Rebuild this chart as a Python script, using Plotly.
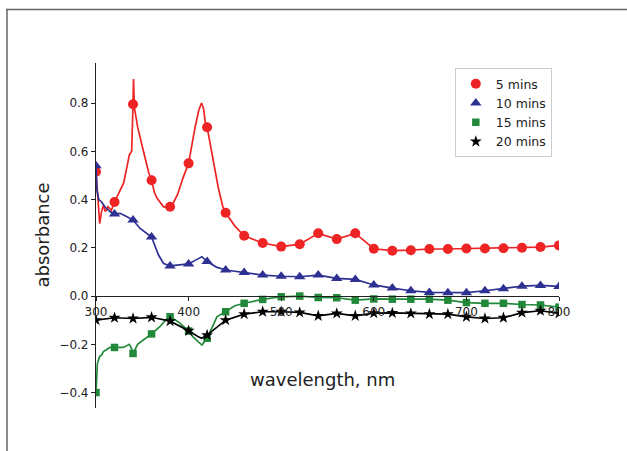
import plotly.graph_objects as go

# marker wavelengths (every 20 nm)
wl = [300 + 20 * i for i in range(26)]

red_m = [0.515, 0.39, 0.795, 0.48, 0.37, 0.55, 0.70, 0.345, 0.25, 0.22, 0.205, 0.215, 0.26,
         0.236, 0.26, 0.196, 0.188, 0.19, 0.195, 0.195, 0.197, 0.197, 0.198, 0.20, 0.203, 0.21]
blue_m = [0.54, 0.34, 0.315, 0.245, 0.125, 0.133, 0.143, 0.108, 0.098, 0.087, 0.082, 0.08, 0.087,
          0.073, 0.069, 0.046, 0.033, 0.022, 0.015, 0.014, 0.014, 0.022, 0.03, 0.041, 0.044, 0.04]
green_m = [-0.40, -0.213, -0.238, -0.157, -0.086, -0.145, -0.175, -0.065, -0.03, -0.014, -0.003, 0.0,
           -0.006, -0.007, -0.017, -0.012, -0.013, -0.013, -0.013, -0.017, -0.027, -0.03, -0.03,
           -0.035, -0.037, -0.046]
black_m = [-0.10, -0.09, -0.093, -0.088, -0.104, -0.144, -0.162, -0.10, -0.075, -0.065, -0.065, -0.068,
           -0.082, -0.072, -0.082, -0.071, -0.07, -0.072, -0.075, -0.075, -0.086, -0.093, -0.09,
           -0.069, -0.061, -0.072]

# extra spectral detail points for the continuous lines
red_dx = [302.5, 304, 306, 308, 310, 313, 316.6, 325, 330, 336, 338.5, 340.5, 341.5, 343, 345, 350,
          353, 357, 363, 366, 373, 384, 388, 394, 404, 407, 411, 414, 416, 418, 424, 427, 432, 437, 450]
red_dy = [0.356, 0.30, 0.35, 0.375, 0.35, 0.37, 0.355, 0.43, 0.47, 0.585, 0.60, 0.90, 0.78, 0.75, 0.70,
          0.62, 0.577, 0.51, 0.43, 0.405, 0.37, 0.39, 0.42, 0.49, 0.64, 0.70, 0.77, 0.80, 0.78, 0.72,
          0.62, 0.56, 0.45, 0.37, 0.29]
blue_dx = [301, 303, 306, 309.6, 315, 326, 333, 347.6, 353, 367.5, 373, 390, 408, 414.4, 430]
blue_dy = [0.44, 0.40, 0.39, 0.37, 0.35, 0.343, 0.33, 0.28, 0.265, 0.17, 0.135, 0.128, 0.15, 0.163, 0.12]
green_dx = [301.5, 304, 306, 308, 315, 329.6, 336, 338, 345, 350, 369, 375, 390, 405, 414.4, 430.6, 450]
green_dy = [-0.28, -0.25, -0.245, -0.23, -0.213, -0.213, -0.20, -0.215, -0.20, -0.185, -0.127, -0.10,
            -0.11, -0.17, -0.203, -0.086, -0.04]
black_dx = [410, 414]
black_dy = [-0.168, -0.175]

labels = ["5 mins", "10 mins", "15 mins", "20 mins"]
colors = ["#EE2424", "#2E3192", "#23893A", "#000000"]
symbols = ["circle", "triangle-up", "square", "star"]
sizes = [10, 10, 7.5, 9]

fig = go.Figure()
series = [(red_m, red_dx, red_dy), (blue_m, blue_dx, blue_dy),
          (green_m, green_dx, green_dy), (black_m, black_dx, black_dy)]
for (m, dx, dy), lab, c, s, sz in zip(series, labels, colors, symbols, sizes):
    pts = sorted(list(zip(wl, m)) + list(zip(dx, dy)))
    fig.add_trace(go.Scatter(x=[p[0] for p in pts], y=[p[1] for p in pts], mode="lines",
                             line=dict(color=c, width=1.7), showlegend=False, hoverinfo="skip"))
    fig.add_trace(go.Scatter(x=wl, y=m, mode="markers", name=lab,
                             marker=dict(symbol=s, size=sz, color=c, line=dict(width=0))))

ymin, ymax = -0.464, 0.966
xpos = (0 - ymin) / (ymax - ymin)
font = "DejaVu Sans"

fig.update_layout(
    width=627, height=451,
    margin=dict(l=96, r=68, t=63, b=43),
    paper_bgcolor="white", plot_bgcolor="white",
    font=dict(family=font, size=12, color="#222"),
    showlegend=True,
    legend=dict(x=0.775, y=0.985, xanchor="left", yanchor="top",
                bordercolor="#cccccc", borderwidth=1, bgcolor="white",
                font=dict(family=font, size=12.5, color="#222"),
                itemsizing="trace", tracegroupgap=0),
    xaxis=dict(range=[300, 800], anchor="free", position=xpos,
               showline=True, linecolor="#222", linewidth=1.2,
               ticks="outside", ticklen=4, tickcolor="#222",
               tickvals=[300, 400, 500, 600, 700, 800], showgrid=False, zeroline=False,
               tickfont=dict(family=font, size=12, color="#222")),
    yaxis=dict(range=[ymin, ymax], showline=True, linecolor="#222", linewidth=1.2,
               ticks="outside", ticklen=4, tickcolor="#222",
               tickvals=[-0.4, -0.2, 0.0, 0.2, 0.4, 0.6, 0.8],
               ticktext=["\u22120.4", "\u22120.2", "0.0", "0.2", "0.4", "0.6", "0.8"],
               showgrid=False, zeroline=False,
               tickfont=dict(family=font, size=12, color="#222")),
    annotations=[
        dict(text="absorbance", xref="paper", yref="paper", x=(42 - 96) / 463, y=0.5,
             textangle=-90, showarrow=False, xanchor="center", yanchor="middle",
             font=dict(family=font, size=18, color="#222")),
        dict(text="wavelength, nm", xref="paper", yref="paper", x=0.49, y=(408 - 379) / 345,
             showarrow=False, xanchor="center", yanchor="middle",
             font=dict(family=font, size=18, color="#222")),
    ],
    shapes=[
        dict(type="line", xref="paper", yref="paper", x0=(6 - 96) / 463, x1=(627 - 96) / 463,
             y0=(408 - 9.5) / 345, y1=(408 - 9.5) / 345, line=dict(color="#666", width=1.5)),
        dict(type="line", xref="paper", yref="paper", x0=(7 - 96) / 463, x1=(7 - 96) / 463,
             y0=(408 - 9.5) / 345, y1=(408 - 452) / 345, line=dict(color="#666", width=1.5)),
    ],
)

fig.write_html("out.html")
